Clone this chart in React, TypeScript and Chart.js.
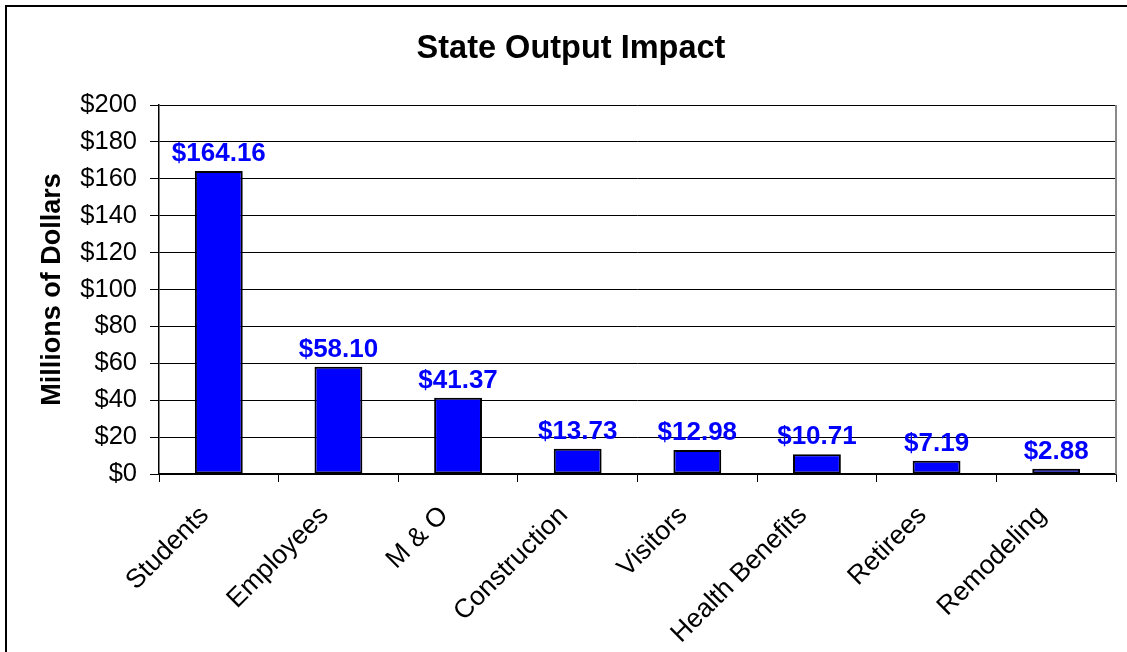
import React, { useEffect, useRef } from "react";
import { Chart, registerables } from "chart.js";

Chart.register(...registerables);

const categories = ["Students", "Employees", "M & O", "Construction", "Visitors", "Health Benefits", "Retirees", "Remodeling"];
const values = [164.16, 58.1, 41.37, 13.73, 12.98, 10.71, 7.19, 2.88];
const yTicksMin = 0;
const yTicksMax = 200;
const yTicksStep = 20;
const chartTitle = "State Output Impact";
const yAxisTitle = "Millions of Dollars";

const FONT = "'Liberation Sans', Arial, sans-serif";

const decorPlugin = {
  id: "decor",
  afterDatasetsDraw(chart: any) {
    const ctx = chart.ctx;
    const meta = chart.getDatasetMeta(0);
    ctx.save();
    ctx.fillStyle = "#0000FF";
    ctx.font = `bold 26px ${FONT}`;
    ctx.textAlign = "center";
    ctx.textBaseline = "bottom";
    meta.data.forEach((bar: any, i: number) => {
      ctx.fillText("$" + values[i].toFixed(2), bar.x, bar.y - 4);
    });
    ctx.restore();
  },
  afterDraw(chart: any) {
    const ctx = chart.ctx;
    const a = chart.chartArea;
    ctx.save();
    // plot area right border
    ctx.strokeStyle = "#8a8a8a";
    ctx.lineWidth = 2;
    ctx.beginPath();
    ctx.moveTo(a.right, a.top);
    ctx.lineTo(a.right, a.bottom);
    ctx.stroke();
    // title
    ctx.fillStyle = "#000";
    ctx.font = `bold 32.5px ${FONT}`;
    ctx.textAlign = "center";
    ctx.textBaseline = "middle";
    ctx.fillText(chartTitle, 571, 49);
    // outer border
    ctx.fillRect(5, 5, 1200, 2);
    ctx.fillRect(5, 5, 2, 800);
    ctx.restore();
  },
};

export default function App() {
  const ref = useRef<HTMLCanvasElement>(null);
  useEffect(() => {
    document.body.style.margin = "0";
    const chart = new Chart(ref.current!, {
      type: "bar",
      data: {
        labels: categories,
        datasets: [
          {
            data: values,
            backgroundColor: "#0000FF",
            borderColor: "#000",
            borderWidth: 2,
            borderSkipped: false,
            barPercentage: 0.4,
            categoryPercentage: 1,
          },
        ],
      },
      options: {
        animation: false,
        responsive: false,
        devicePixelRatio: 1,
        layout: { padding: { top: 105, right: 11, left: 0, bottom: 0 } },
        plugins: { legend: { display: false }, tooltip: { enabled: false }, title: { display: false } },
        scales: {
          x: {
            offset: true,
            grid: { display: true, drawOnChartArea: false, offset: true, color: "#000", tickLength: 8, lineWidth: 1 },
            border: { color: "#000", width: 1.5 },
            ticks: {
              color: "#000",
              font: { family: FONT, size: 26.5 },
              minRotation: 45,
              maxRotation: 45,
              autoSkip: false,
              labelOffset: -14,
              padding: 18,
            },
            afterFit: (s: any) => {
              s.height = 652 - 474;
            },
          },
          y: {
            min: yTicksMin,
            max: yTicksMax,
            ticks: {
              stepSize: yTicksStep,
              color: "#000",
              font: { family: FONT, size: 25.5 },
              padding: 13,
              callback: (v: any) => "$" + v,
            },
            grid: { color: "#000", lineWidth: 1, tickLength: 9 },
            border: { color: "#000", width: 1.5 },
            title: {
              display: true,
              text: yAxisTitle,
              color: "#000",
              font: { family: FONT, size: 27, weight: "bold" },
              padding: { top: 36, bottom: 0 },
            },
            afterFit: (s: any) => {
              s.width = 159;
            },
          },
        },
      },
      plugins: [decorPlugin],
    });
    return () => chart.destroy();
  }, []);
  return <canvas ref={ref} width={1127} height={652} style={{ display: "block" }} />;
}
